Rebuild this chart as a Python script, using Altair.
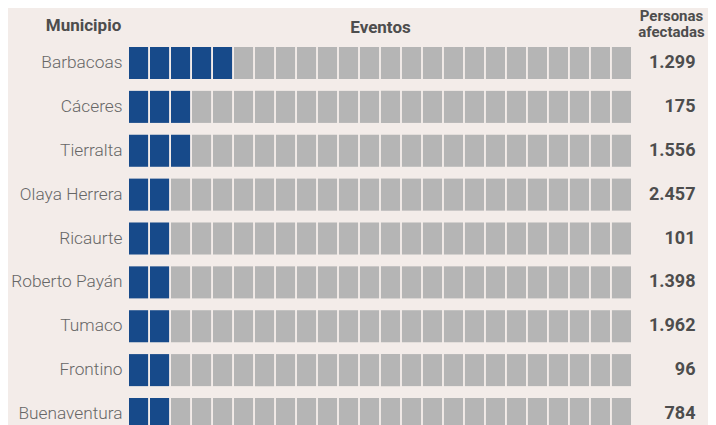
import altair as alt
import pandas as pd

municipios = ["Barbacoas", "Cáceres", "Tierralta", "Olaya Herrera", "Ricaurte",
              "Roberto Payán", "Tumaco", "Frontino", "Buenaventura"]
eventos = [5, 3, 3, 2, 2, 2, 2, 2, 2]
personas = [1299, 175, 1556, 2457, 101, 1398, 1962, 96, 784]
n_cols = 24

BLUE = "#174a8a"
GRAY = "#b5b5b5"
BG = "#f3ece9"

rows = []
for m, e in zip(municipios, eventos):
    for c in range(n_cols):
        rows.append({"municipio": m, "col": c, "lleno": "si" if c < e else "no"})
cells = pd.DataFrame(rows)

fmt = {m: f"{p:,}".replace(",", ".") for m, p in zip(municipios, personas)}
label_expr = "{" + ",".join(f"'{m}':'{v}'" for m, v in fmt.items()) + "}[datum.value]"

people = pd.DataFrame({"municipio": municipios, "personas": personas})

yscale = alt.Scale(domain=municipios, paddingInner=0.27, paddingOuter=0)

squares = alt.Chart(cells).mark_rect().encode(
    x=alt.X("col:O", scale=alt.Scale(paddingInner=0.09, paddingOuter=0),
            axis=alt.Axis(orient="top", labels=False, ticks=False, domain=False,
                          title="Eventos", titleFont="Roboto", titleFontSize=17,
                          titleFontWeight="bold", titleColor="#4d4d4d",
                          titleBaseline="alphabetic", titleY=-15)),
    y=alt.Y("municipio:N", sort=municipios, scale=yscale,
            axis=alt.Axis(orient="left", ticks=False, domain=False, labelPadding=7,
                          labelFont="Roboto", labelFontSize=17.3, labelColor="#666666",
                          labelFontWeight=300,
                          title="Municipio", titleAngle=0, titleAlign="center",
                          titleBaseline="alphabetic", titleX=-46, titleY=-17,
                          titleFont="Roboto", titleFontSize=17, titleFontWeight="bold",
                          titleColor="#4d4d4d")),
    color=alt.Color("lleno:N", scale=alt.Scale(domain=["si", "no"], range=[BLUE, GRAY]),
                    legend=None),
)

numbers = alt.Chart(people).mark_text(opacity=0).encode(
    y=alt.Y("municipio:N", sort=municipios, scale=yscale,
            axis=alt.Axis(orient="right", ticks=False, domain=False, labelPadding=64,
                          labelAlign="right", labelExpr=label_expr,
                          labelFont="Roboto", labelFontSize=18, labelFontWeight="bold",
                          labelColor="#4d4d4d",
                          title=["Personas", "afectadas"], titleAngle=0,
                          titleAlign="center", titleBaseline="alphabetic",
                          titleX=40, titleY=-27, titleLineHeight=16.5,
                          titleFont="Roboto", titleFontSize=15, titleFontWeight="bold",
                          titleColor="#4d4d4d")),
)

chart = alt.layer(squares, numbers).resolve_axis(y="independent").properties(
    width=502, height=383, background=BG,
    padding={"left": 121, "top": 39, "right": 77, "bottom": 0},
    autosize=alt.AutoSizeParams(type="none"),
).configure_view(stroke=None)

chart.save("out.html", embed_options={"renderer": "svg", "actions": False})
